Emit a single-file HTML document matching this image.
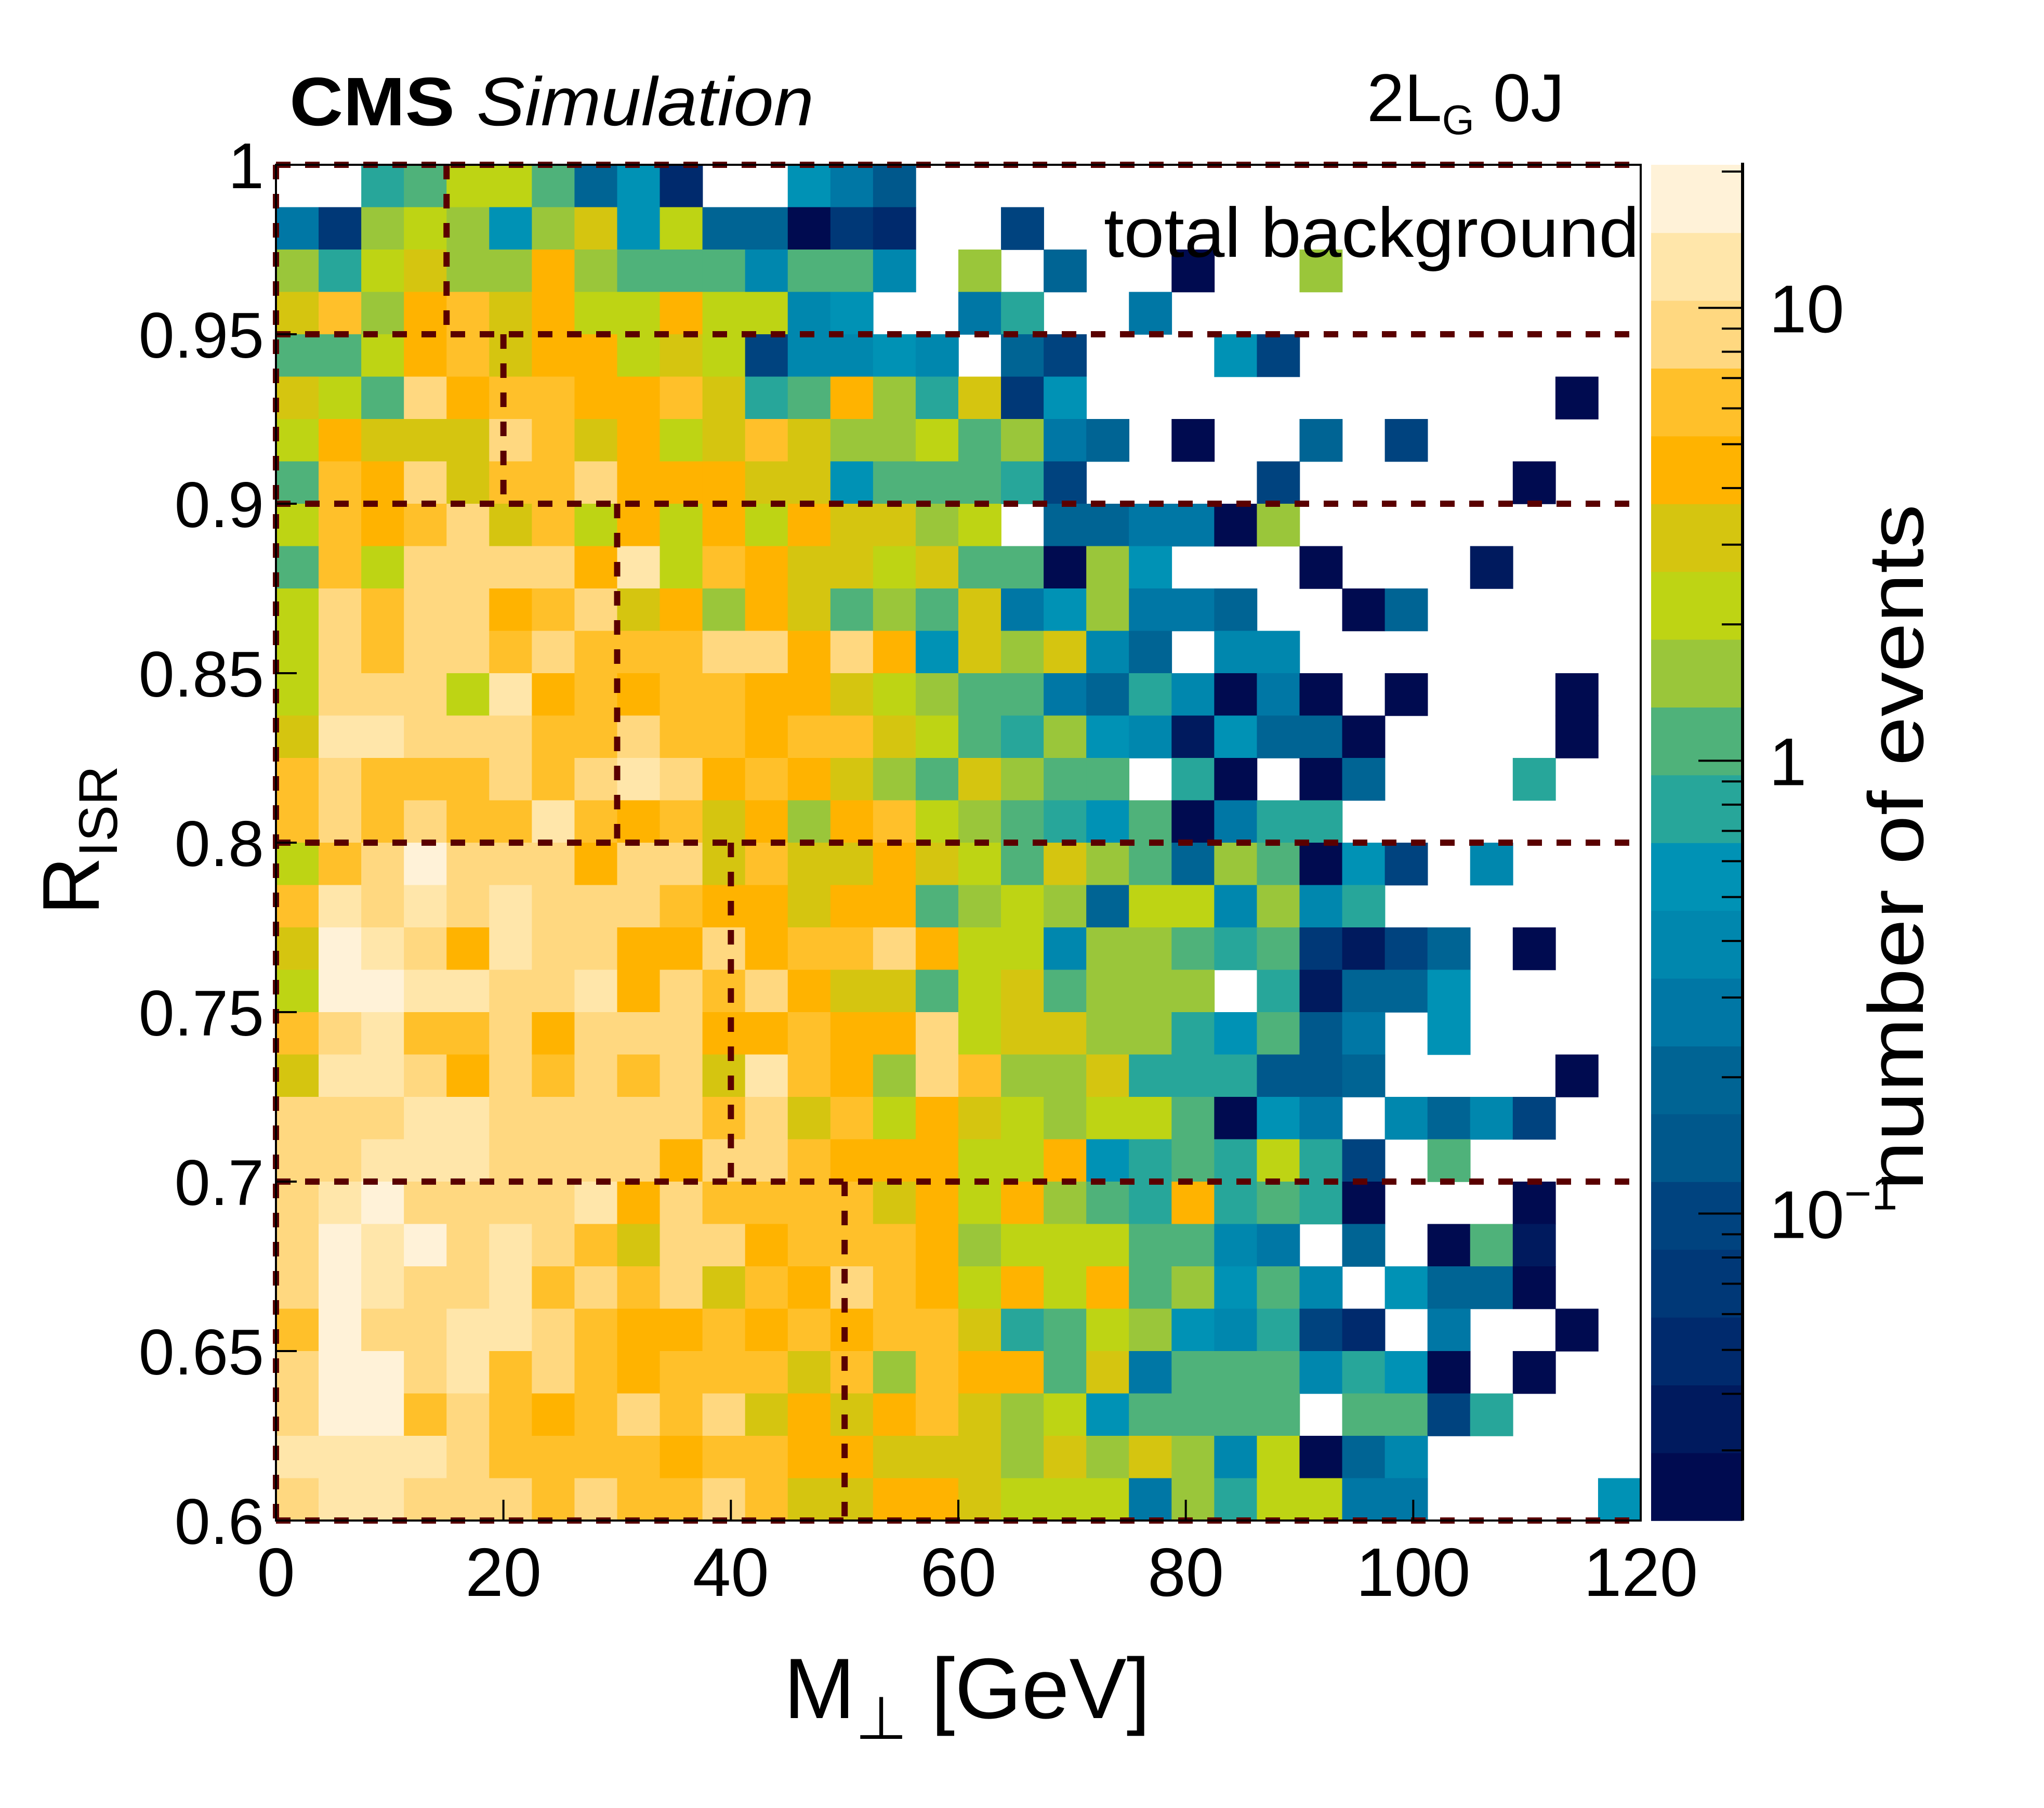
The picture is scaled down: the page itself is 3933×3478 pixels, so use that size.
<!DOCTYPE html>
<html><head><meta charset="utf-8"><style>
html,body{margin:0;padding:0;background:#fff;}
svg{display:block;}
text{font-family:"Liberation Sans",Arial,sans-serif;fill:#000;}
</style></head><body>
<svg id="chart" xmlns="http://www.w3.org/2000/svg" width="3933" height="3478" viewBox="0 0 3933 3478">
<rect x="0" y="0" width="3933" height="3478" fill="#fff"/>
<g id="cells"></g>
<g id="regions"></g>
<g id="frame"></g>
<g id="xticks"></g>
<g id="yticks"></g>
<g id="cbar"></g>
<text x="557" y="241" font-size="132" font-weight="bold" textLength="318" lengthAdjust="spacingAndGlyphs">CMS</text>
<text x="917" y="241" font-size="132" font-style="italic" textLength="649" lengthAdjust="spacingAndGlyphs">Simulation</text>
<text x="2630" y="233" font-size="130">2L<tspan font-size="80" dy="25">G</tspan><tspan dy="-25"> 0J</tspan></text>
<text x="2124" y="494" font-size="135" textLength="1030" lengthAdjust="spacingAndGlyphs">total background</text>
<text x="1508" y="3305" font-size="165">M<tspan font-size="115" dy="40">⊥</tspan><tspan dy="-40"> [GeV]</tspan></text>
<text transform="translate(190,1760) rotate(-90)" font-size="155">R<tspan font-size="105" dy="35">ISR</tspan></text>
<text transform="translate(3700,2290) rotate(-90)" font-size="150" textLength="1320" lengthAdjust="spacingAndGlyphs">number of events</text>
</svg>
<script>
// ---- data ----
const xTickValues = [0, 20, 40, 60, 80, 100, 120];
const yTickValues = [0.6, 0.65, 0.7, 0.75, 0.8, 0.85, 0.9, 0.95, 1];
const yTickLabels = ["0.6", "0.65", "0.7", "0.75", "0.8", "0.85", "0.9", "0.95", "1"];
const xRange = [0, 120];
const yRange = [0.6, 1.0];
const nBinsX = 32;
const nBinsY = 32;
const zRange = [0.021, 20.7];
// rows listed from top (R_ISR 0.9875-1.0) to bottom (0.6-0.6125); 0 = empty bin
const counts = [
[0,0,.77,1.1,2.2,2.2,1.1,.2,.55,.05,0,0,.55,.27,.14,0,0,0,0,0,0,0,0,0,0,0,0,0,0,0,0,0],
[.27,.07,1.5,2.2,1.5,.55,1.5,3,.55,2.2,.2,.2,.025,.07,.05,0,0,.1,0,0,0,0,0,0,0,0,0,0,0,0,0,0],
[1.5,.77,2.2,3,1.5,1.5,4.3,1.5,1.1,1.1,1.1,.39,1.1,1.1,.39,0,1.5,0,.2,0,0,.025,0,0,1.5,0,0,0,0,0,0,0],
[3,6,1.5,4.3,6,3,4.3,2.2,2.2,4.3,2.2,2.2,.39,.55,0,0,.27,.77,0,0,.27,0,0,0,0,0,0,0,0,0,0,0],
[1.1,1.1,2.2,4.3,6,3,4.3,4.3,2.2,3,2.2,.1,.39,.39,.55,.39,0,.2,.1,0,0,0,.55,.1,0,0,0,0,0,0,0,0],
[3,2.2,1.1,8.5,4.3,6,6,4.3,4.3,6,3,.77,1.1,4.3,1.5,.77,3,.07,.55,0,0,0,0,0,0,0,0,0,0,0,.025,0],
[2.2,4.3,3,3,3,8.5,6,3,4.3,2.2,3,6,3,1.5,1.5,2.2,1.1,1.5,.27,.2,0,.025,0,0,.2,0,.1,0,0,0,0,0],
[1.1,6,4.3,8.5,3,6,6,8.5,4.3,4.3,4.3,3,3,.55,1.1,1.1,1.1,.77,.1,0,0,0,0,.1,0,0,0,0,0,.025,0,0],
[2.2,6,4.3,6,8.5,3,6,2.2,4.3,2.2,4.3,2.2,4.3,3,3,1.5,2.2,0,.2,.2,.27,.27,.025,1.5,0,0,0,0,0,0,0,0],
[1.1,6,2.2,8.5,8.5,8.5,8.5,4.3,12,2.2,6,4.3,3,3,2.2,3,1.1,1.1,.025,1.5,.55,0,0,0,.025,0,0,0,.035,0,0,0],
[2.2,8.5,6,8.5,8.5,4.3,6,8.5,3,4.3,1.5,4.3,3,1.1,1.5,1.1,3,.27,.55,1.5,.27,.27,.2,0,0,.025,.2,0,0,0,0,0],
[2.2,8.5,6,8.5,8.5,6,8.5,6,6,6,8.5,8.5,4.3,8.5,4.3,.55,3,1.5,3,.39,.2,0,.39,.39,0,0,0,0,0,0,0,0],
[2.2,8.5,8.5,8.5,2.2,12,4.3,6,4.3,6,6,4.3,4.3,3,2.2,1.5,1.1,1.1,.27,.2,.77,.39,.025,.27,.025,0,.025,0,0,0,.025,0],
[3,12,12,8.5,8.5,8.5,6,6,8.5,6,6,4.3,6,6,3,2.2,1.1,.77,1.5,.55,.39,.035,.55,.2,.2,.025,0,0,0,0,.025,0],
[6,8.5,6,6,6,8.5,6,8.5,12,8.5,4.3,6,4.3,3,1.5,1.1,3,1.5,1.1,1.1,0,.77,.025,0,.025,.2,0,0,0,.77,0,0],
[6,8.5,6,8.5,6,6,12,6,4.3,6,3,4.3,1.5,4.3,6,2.2,1.5,1.1,.77,.55,1.1,.025,.27,.77,.77,0,0,0,0,0,0,0],
[2.2,6,8.5,17,8.5,8.5,8.5,4.3,8.5,8.5,3,6,3,3,4.3,3,2.2,1.1,3,1.5,1.1,.2,1.5,1.1,.025,.55,.1,0,.39,0,0,0],
[6,12,8.5,12,8.5,12,8.5,8.5,8.5,6,4.3,4.3,3,4.3,4.3,1.1,1.5,2.2,1.5,.2,2.2,2.2,.39,1.5,.39,.77,0,0,0,0,0,0],
[3,17,12,8.5,4.3,12,8.5,8.5,4.3,4.3,8.5,4.3,6,6,8.5,4.3,2.2,2.2,.39,1.5,1.5,1.1,.77,1.1,.07,.035,.1,.2,0,.025,0,0],
[2.2,17,17,12,12,8.5,8.5,12,4.3,8.5,6,8.5,4.3,3,3,1.1,2.2,3,1.1,1.5,1.5,1.5,0,.77,.035,.2,.2,.55,0,0,0,0],
[6,8.5,12,6,6,8.5,4.3,8.5,8.5,8.5,4.3,4.3,6,4.3,4.3,8.5,2.2,3,3,1.5,1.5,.77,.55,1.1,.14,.27,0,.55,0,0,0,0],
[3,12,12,8.5,4.3,8.5,6,8.5,6,8.5,3,12,6,4.3,1.5,8.5,6,1.5,1.5,3,.77,.77,.77,.14,.14,.2,0,0,0,0,.025,0],
[8.5,8.5,8.5,12,12,8.5,8.5,8.5,8.5,8.5,6,8.5,3,6,2.2,4.3,3,2.2,1.5,2.2,2.2,1.1,.025,.55,.27,0,.39,.2,.39,.1,0,0],
[8.5,8.5,12,12,12,8.5,8.5,8.5,8.5,4.3,8.5,8.5,6,4.3,4.3,4.3,2.2,2.2,4.3,.55,.77,1.1,.77,2.2,.77,.1,0,1.1,0,0,0,0],
[8.5,12,17,8.5,8.5,8.5,8.5,12,4.3,8.5,6,6,6,6,3,4.3,2.2,4.3,1.5,1.1,.77,4.3,.77,1.1,.77,.025,0,0,0,.025,0,0],
[8.5,17,12,17,8.5,12,8.5,6,3,8.5,8.5,4.3,6,6,6,4.3,1.5,2.2,2.2,2.2,1.1,1.1,.39,.27,0,.2,0,.025,1.1,.035,0,0],
[8.5,17,12,8.5,8.5,12,6,8.5,6,8.5,3,6,4.3,8.5,6,4.3,2.2,4.3,2.2,4.3,1.1,1.5,.55,1.1,.39,0,.55,.2,.2,.025,0,0],
[6,17,8.5,8.5,12,12,8.5,6,4.3,4.3,6,4.3,6,4.3,6,6,3,.77,1.1,2.2,1.5,.55,.39,.77,.1,.05,0,.27,0,0,.025,0],
[8.5,17,17,8.5,12,6,8.5,6,4.3,6,6,6,3,6,1.5,6,4.3,4.3,1.1,3,.27,1.1,1.1,1.1,.39,.77,.55,.025,0,.025,0,0],
[8.5,17,17,6,8.5,6,4.3,6,8.5,6,8.5,3,4.3,3,4.3,6,3,1.5,2.2,.55,1.1,1.1,1.1,1.1,0,1.1,1.1,.1,.77,0,0,0],
[12,12,12,12,8.5,6,6,6,6,4.3,6,6,4.3,4.3,3,3,3,1.5,3,1.5,3,1.5,.39,2.2,.025,.2,.39,0,0,0,0,0],
[8.5,12,12,8.5,8.5,8.5,6,8.5,6,6,8.5,6,3,3,4.3,4.3,3,2.2,2.2,2.2,.27,1.5,.77,2.2,2.2,.27,.27,0,0,0,0,.55]
];
// signal-region boundaries: [xCut, rLow, rHigh]
const regionCuts = [[15, 0.95, 1.0], [20, 0.9, 0.95], [30, 0.8, 0.9], [40, 0.7, 0.8], [50, 0.6, 0.7]];
const regionRLines = [0.6, 0.7, 0.8, 0.9, 0.95, 1.0];
const cbMajorTicks = [0.1, 1, 10];
const cbMajorLabels = ["10", "1", "10"];

// ---- style / geometry ----
const palette = ['#000B50','#001A5E','#002A6D','#003877','#00437F','#00588C','#006494','#0077A5','#0087AE','#0092B5','#27A69A','#4FB27A','#9AC63A','#BED414','#D5C510','#FFB300','#FFC02A','#FFD880','#FFE6AA','#FFF2D8'];
const PX0 = 531, PX1 = 3157, PY0 = 317, PY1 = 2925;
const CBX0 = 3177, CBX1 = 3353;
const NS = 'http://www.w3.org/2000/svg';
const xs = v => PX0 + (v - xRange[0]) / (xRange[1] - xRange[0]) * (PX1 - PX0);
const ys = v => PY1 - (v - yRange[0]) / (yRange[1] - yRange[0]) * (PY1 - PY0);
const lzmin = Math.log10(zRange[0]), lzmax = Math.log10(zRange[1]);
const zs = v => PY1 - (Math.log10(v) - lzmin) / (lzmax - lzmin) * (PY1 - PY0);
function band(v) {
  let b = Math.floor((Math.log10(v) - lzmin) / (lzmax - lzmin) * palette.length);
  return Math.max(0, Math.min(palette.length - 1, b));
}
function mk(tag, attrs, parent) {
  const e = document.createElementNS(NS, tag);
  for (const k in attrs) e.setAttribute(k, attrs[k]);
  parent.appendChild(e);
  return e;
}

// ---- cells ----
const gCells = document.getElementById('cells');
const bw = (xRange[1] - xRange[0]) / nBinsX, bh = (yRange[1] - yRange[0]) / nBinsY;
counts.forEach((row, i) => {
  const rHigh = yRange[1] - i * bh, rLow = rHigh - bh;
  row.forEach((v, j) => {
    if (!(v > 0)) return;
    const x0 = xs(xRange[0] + j * bw), x1 = xs(xRange[0] + (j + 1) * bw);
    const y0 = ys(rHigh), y1 = ys(rLow);
    const r = mk('rect', {x: x0, y: y0, width: x1 - x0 + 0.8, height: y1 - y0 + 0.8, fill: palette[band(v)]}, gCells);
    
    
  });
});

// ---- frame ----
const gFrame = document.getElementById('frame');
const fr = mk('rect', {x: PX0, y: PY0, width: PX1 - PX0, height: PY1 - PY0, fill: 'none', stroke: '#000', 'stroke-width': 4}, gFrame);



// ---- region boundaries ----
const gReg = document.getElementById('regions');
const dashStyle = {stroke: '#5a0000', 'stroke-width': 12, 'stroke-dasharray': '28 28', fill: 'none'};
regionRLines.forEach(r => {
  const l = mk('line', Object.assign({x1: PX0, x2: PX1, y1: ys(r), y2: ys(r)}, dashStyle), gReg);
  
  
});
const lv = mk('line', Object.assign({x1: PX0, x2: PX0, y1: PY0, y2: PY1}, dashStyle), gReg);


regionCuts.forEach(c => {
  const l = mk('line', Object.assign({x1: xs(c[0]), x2: xs(c[0]), y1: ys(c[2]), y2: ys(c[1])}, dashStyle), gReg);
  
  
});

// ---- x ticks ----
const gX = document.getElementById('xticks');
xTickValues.forEach(v => {
  const t = mk('line', {x1: xs(v), x2: xs(v), y1: PY1, y2: PY1 - 40, stroke: '#000', 'stroke-width': 4}, gX);
  
  
  const tx = mk('text', {x: xs(v), y: 3070, 'font-size': 132, 'text-anchor': 'middle'}, gX);
  tx.textContent = String(v);
  
  
});
// ---- y ticks ----
const gY = document.getElementById('yticks');
yTickValues.forEach((v, i) => {
  const t = mk('line', {x1: PX0, x2: PX0 + 40, y1: ys(v), y2: ys(v), stroke: '#000', 'stroke-width': 4}, gY);
  
  
  const tx = mk('text', {x: 508, y: ys(v) + 45, 'font-size': 124, 'text-anchor': 'end'}, gY);
  tx.textContent = yTickLabels[i];
  
  
});

// ---- colorbar ----
const gCb = document.getElementById('cbar');
palette.forEach((c, k) => {
  const yTop = PY1 - (k + 1) / palette.length * (PY1 - PY0);
  const yBot = PY1 - k / palette.length * (PY1 - PY0);
  const r = mk('rect', {x: CBX0, y: yTop, width: CBX1 - CBX0, height: yBot - yTop + 0.8, fill: c}, gCb);
  
  
});
const cbAxis = mk('line', {x1: CBX1, x2: CBX1, y1: PY0 - 4, y2: PY1, stroke: '#000', 'stroke-width': 6}, gCb);


for (let e = -2; e <= 1; e++) {
  for (let m = 1; m <= 9; m++) {
    const v = m * Math.pow(10, e);
    if (v < zRange[0] || v > zRange[1]) continue;
    const major = (m === 1);
    const t = mk('line', {x1: CBX1, x2: CBX1 - (major ? 85 : 40), y1: zs(v), y2: zs(v), stroke: '#000', 'stroke-width': 4}, gCb);
    
    
  }
}
cbMajorTicks.forEach((v, i) => {
  const tx = mk('text', {x: 3404, y: zs(v) + 47, 'font-size': 130}, gCb);
  tx.textContent = cbMajorLabels[i];
  if (v < 1) {
    const sup = document.createElementNS(NS, 'tspan');
    sup.setAttribute('font-size', '90');
    sup.setAttribute('dy', '-55');
    sup.textContent = '\u22121';
    tx.appendChild(sup);
  }
  
  
});
</script>
</body></html>
